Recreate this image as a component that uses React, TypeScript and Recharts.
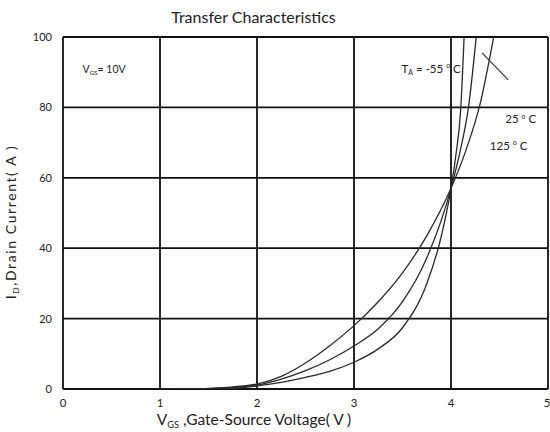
import React from 'react';
import { LineChart, Line, XAxis, YAxis, CartesianGrid, ReferenceDot, ReferenceLine } from 'recharts';

// gate-source voltage (V) and drain current (A), one pair of arrays per junction temperature
const vgsHot = [1.0, 1.25, 1.5, 1.75, 2.0, 2.25, 2.5, 2.75, 3.0, 3.25, 3.5, 3.75, 4.0, 4.15, 4.3, 4.44];
const idHot = [0, 0.05, 0.2, 0.6, 1.4, 3.6, 7.4, 12.3, 18, 24.8, 33, 43.5, 57, 67.5, 81, 100];

const vgsRoom = [1.1, 1.35, 1.6, 1.8, 2.0, 2.25, 2.5, 2.75, 3.0, 3.25, 3.5, 3.75, 4.0, 4.1, 4.18, 4.26];
const idRoom = [0, 0.03, 0.15, 0.45, 1.1, 2.8, 5.2, 8.3, 12.2, 17.1, 24.8, 37.2, 57, 68.3, 80, 100];

const vgsCold = [1.2, 1.45, 1.7, 1.85, 2.0, 2.25, 2.5, 2.75, 3.0, 3.25, 3.5, 3.75, 3.9, 4.0, 4.05, 4.1, 4.135];
const idCold = [0, 0.03, 0.12, 0.35, 0.9, 1.9, 3.3, 5.0, 7.6, 11.4, 17.4, 29.9, 43.4, 57, 66.4, 79.4, 100];

const xTicks = [0, 1, 2, 3, 4, 5];
const yTicks = [0, 20, 40, 60, 80, 100];

const toPoints = (xs: number[], ys: number[]) => xs.map((v, i) => ({ v, id: ys[i] }));

const FONT = 'Lato, "Open Sans", sans-serif';
const INK = '#222';

type Part = { t: string; sub?: boolean; sup?: boolean };

function renderParts(parts: Part[], size: number) {
  const out: React.ReactNode[] = [];
  let shift = 0;
  parts.forEach((p, i) => {
    const want = p.sub ? size * 0.2 : p.sup ? -size * 0.4 : 0;
    out.push(
      <tspan key={i} dy={want - shift} fontSize={p.sub || p.sup ? size * 0.6 : size}>
        {p.t}
      </tspan>
    );
    shift = want;
  });
  return out;
}

// text with small sub/superscripts, anchored at the reference dot centre
function noteLabel(parts: Part[], anchor: 'start' | 'end' | 'middle', size = 10) {
  return (props: any) => {
    const vb = props.viewBox || {};
    const cx = vb.x + (vb.width || 0) / 2;
    const cy = vb.y + (vb.height || 0) / 2;
    return (
      <text x={cx} y={cy} dy="0.35em" textAnchor={anchor} fontSize={size} fill={INK} fontFamily={FONT}>
        {renderParts(parts, size)}
      </text>
    );
  };
}

const XTitle = (props: any) => {
  const vb = props.viewBox;
  return (
    <text x={vb.x + 191} y={vb.y + 36} textAnchor="middle" fontSize={15.5} fill={INK} fontFamily={FONT}>
      {renderParts([{ t: 'V' }, { t: 'GS', sub: true }, { t: ' ,Gate-Source Voltage( V )' }], 15.5)}
    </text>
  );
};

const YTitle = (props: any) => {
  const vb = props.viewBox;
  const x = vb.x - 7;
  const y = vb.y + vb.height / 2 + 9;
  return (
    <text x={x} y={y} transform={`rotate(-90, ${x}, ${y})`} textAnchor="middle" fontSize={14}
      letterSpacing={1.6} fill={INK} fontFamily={FONT}>
      {renderParts([{ t: 'I' }, { t: 'D', sub: true }, { t: ',Drain Current( A )' }], 14)}
    </text>
  );
};

export default function App() {
  const lineProps = {
    dataKey: 'id',
    type: 'monotone' as const,
    stroke: '#2a2a2a',
    strokeWidth: 1.3,
    dot: false,
    isAnimationActive: false,
  };

  return (
    <div style={{ position: 'absolute', left: 0, top: 0, width: 550, height: 432, background: '#fff', fontFamily: FONT }}>
      <div style={{ position: 'absolute', left: 0, top: 7, width: 507, textAlign: 'center', fontSize: 16, color: INK }}>
        Transfer Characteristics
      </div>
      <LineChart width={550} height={432} margin={{ top: 37, right: 2, bottom: 13, left: 23 }}>
        <CartesianGrid stroke="#111" strokeWidth={1.8} />
        <XAxis
          type="number"
          dataKey="v"
          domain={[0, 5]}
          ticks={xTicks}
          allowDataOverflow
          axisLine={false}
          tickLine={false}
          tickMargin={4}
          height={30}
          tick={{ fontSize: 11.5, fill: INK, fontFamily: FONT }}
          label={{ content: XTitle }}
        />
        <YAxis
          type="number"
          domain={[0, 100]}
          ticks={yTicks}
          allowDataOverflow
          axisLine={false}
          tickLine={false}
          tickMargin={5}
          width={40}
          tick={{ fontSize: 11, fill: INK, fontFamily: FONT }}
          label={{ content: YTitle }}
        />
        <Line {...lineProps} data={toPoints(vgsHot, idHot)} name="125 °C" />
        <Line {...lineProps} data={toPoints(vgsRoom, idRoom)} name="25 °C" />
        <Line {...lineProps} data={toPoints(vgsCold, idCold)} name="-55 °C" />

        <ReferenceLine
          segment={[{ x: 4.32, y: 95.5 }, { x: 4.59, y: 87.8 }]}
          stroke="#333"
          strokeWidth={1.2}
          ifOverflow="visible"
        />
        <ReferenceDot x={0.2} y={89.8} r={1} fill="none" stroke="none"
          label={noteLabel([{ t: 'V' }, { t: 'GS', sub: true }, { t: '= 10V' }], 'start', 10.5)} />
        <ReferenceDot x={4.1} y={89.8} r={1} fill="none" stroke="none"
          label={noteLabel([{ t: 'T' }, { t: 'A', sub: true }, { t: ' = -55 ' }, { t: 'o', sup: true }, { t: ' C' }], 'end', 11.5)} />
        <ReferenceDot x={4.56} y={75.5} r={1} fill="none" stroke="none"
          label={noteLabel([{ t: '25 ' }, { t: 'o', sup: true }, { t: ' C' }], 'start', 11.5)} />
        <ReferenceDot x={4.4} y={68} r={1} fill="none" stroke="none"
          label={noteLabel([{ t: '125 ' }, { t: 'o', sup: true }, { t: ' C' }], 'start', 11.5)} />
      </LineChart>
    </div>
  );
}
